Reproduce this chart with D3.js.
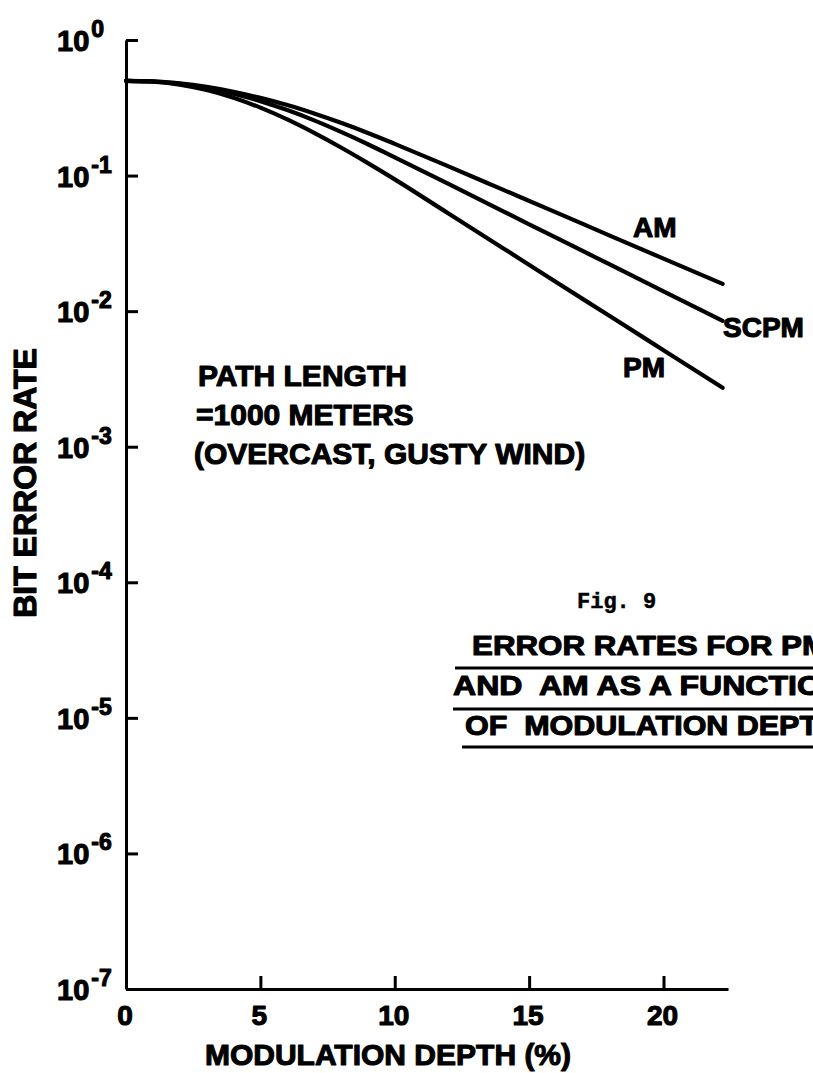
<!DOCTYPE html>
<html>
<head>
<meta charset="utf-8">
<script src="https://cdn.jsdelivr.net/npm/d3@7"></script>
<style>
  html, body { margin: 0; padding: 0; background: #fff; overflow: hidden; }
  svg { display: block; }
  .lt { font-family: "Liberation Sans", Arial, sans-serif; font-weight: bold; fill: #000; stroke: #000; stroke-width: 1.1; stroke-linejoin: round; }
</style>
</head>
<body>
<svg id="chart" width="813" height="1073"></svg>
<script>
// ---- data ----
const depth = [0, 1, 2, 3, 4, 5, 6, 7, 8, 9, 10, 12, 14, 16, 18, 20, 22.2];
const am    = [0.5, 0.4955, 0.4786, 0.4508, 0.415, 0.3741, 0.3311, 0.2871, 0.2449, 0.2061, 0.1714, 0.1169, 0.0791, 0.0535, 0.0361, 0.0244, 0.0159];
const scpm  = [0.5, 0.4943, 0.4753, 0.4436, 0.4018, 0.354, 0.3041, 0.2553, 0.2099, 0.1702, 0.1361, 0.0867, 0.055, 0.0348, 0.0221, 0.014, 0.00847];
const pm    = [0.5, 0.4932, 0.4688, 0.4276, 0.375, 0.317, 0.2594, 0.2065, 0.1611, 0.1236, 0.0938, 0.0525, 0.0294, 0.0164, 0.0092, 0.00515, 0.00272];
const seriesNames = ["AM", "SCPM", "PM"];
const xTicks = [0, 5, 10, 15, 20];
const yTickExps = [0, -1, -2, -3, -4, -5, -6, -7];
const xTitle = "MODULATION DEPTH (%)";
const yTitle = "BIT ERROR RATE";
const noteLines = ["PATH LENGTH", "=1000 METERS", "(OVERCAST, GUSTY WIND)"];
const figLabel = "Fig. 9";
const captionLines = ["ERROR RATES FOR PM", "AND  AM AS A FUNCTION", "OF  MODULATION DEPTH"];

// ---- layout ----
const svg = d3.select("#chart");
const x = d3.scaleLinear().domain([0, 22.4]).range([126, 728]);
const y = d3.scaleLog().domain([1e-7, 1]).range([989, 40]);

// axes
const yAxis = d3.axisLeft(y).tickValues(yTickExps.map(e => Math.pow(10, e)))
  .tickSizeInner(-12).tickSizeOuter(0).tickFormat("");
const gy = svg.append("g").attr("transform", "translate(126,0)").call(yAxis);
gy.select(".domain").attr("stroke", "#000").attr("stroke-width", 3);
gy.selectAll(".tick line").attr("stroke", "#000").attr("stroke-width", 3);

const xAxis = d3.axisBottom(x).tickValues(xTicks).tickSizeInner(-13).tickSizeOuter(0).tickFormat("");
const gx = svg.append("g").attr("transform", "translate(0,989)").call(xAxis);
gx.select(".domain").attr("stroke", "#000").attr("stroke-width", 3);
gx.selectAll(".tick line").attr("stroke", "#000").attr("stroke-width", 3);

// y tick labels 10^n
yTickExps.forEach(e => {
  const yy = y(Math.pow(10, e));
  const t = svg.append("text").attr("class", "lt").attr("x", 57).attr("y", yy + 11)
    .attr("font-size", 29);
  t.append("tspan").text("10");
  t.append("tspan").attr("dx", 2).attr("dy", -14).attr("font-size", 23).text(String(e));
});

// x tick labels
xTicks.forEach(v => {
  svg.append("text").attr("class", "lt").attr("x", x(v) - 1).attr("y", 1025)
    .attr("text-anchor", "middle").attr("font-size", 28).text(String(v));
});

// axis titles
svg.append("text").attr("class", "lt").attr("x", 388).attr("y", 1065)
  .attr("text-anchor", "middle").attr("font-size", 30).text(xTitle);
svg.append("text").attr("class", "lt")
  .attr("transform", "translate(36,483) rotate(-90)")
  .attr("text-anchor", "middle").attr("font-size", 32).text(yTitle);

// curves
const line = d3.line().x((d, i) => x(depth[i])).y(d => y(d)).curve(d3.curveMonotoneX);
[am, scpm, pm].forEach(s => {
  svg.append("path").datum(s).attr("d", line)
    .attr("fill", "none").attr("stroke", "#000").attr("stroke-width", 4.2)
    .attr("stroke-linecap", "round").attr("stroke-linejoin", "round");
});

// series labels
const labelPos = [[633, 237], [723, 337], [623, 377]];
seriesNames.forEach((n, i) => {
  svg.append("text").attr("class", "lt").attr("x", labelPos[i][0]).attr("y", labelPos[i][1])
    .attr("font-size", 28).text(n);
});

// annotation
const noteX = [198, 196, 194];
noteLines.forEach((s, i) => {
  svg.append("text").attr("class", "lt").attr("x", noteX[i]).attr("y", 386 + i * 39)
    .attr("font-size", 30).text(s);
});

// figure caption
svg.append("text").attr("x", 577).attr("y", 608)
  .attr("font-family", "'Liberation Mono', 'DejaVu Sans Mono', monospace")
  .attr("font-weight", "bold").attr("font-size", 22).attr("fill", "#000")
  .attr("stroke", "#000").attr("stroke-width", 0.5).text(figLabel);

const capX = [472, 453, 465];
const capY = [655, 695, 735];
const capW = [356, 392, 375];
const ulY = [668, 709, 747];
const ulX = [455, 453, 462];
captionLines.forEach((s, i) => {
  svg.append("text").attr("class", "lt").attr("x", capX[i]).attr("y", capY[i])
    .attr("font-size", 28).style("white-space", "pre")
    .attr("textLength", capW[i]).attr("lengthAdjust", "spacingAndGlyphs").text(s);
  svg.append("line").attr("x1", ulX[i]).attr("x2", 813).attr("y1", ulY[i]).attr("y2", ulY[i])
    .attr("stroke", "#000").attr("stroke-width", 3);
});
</script>
</body>
</html>
